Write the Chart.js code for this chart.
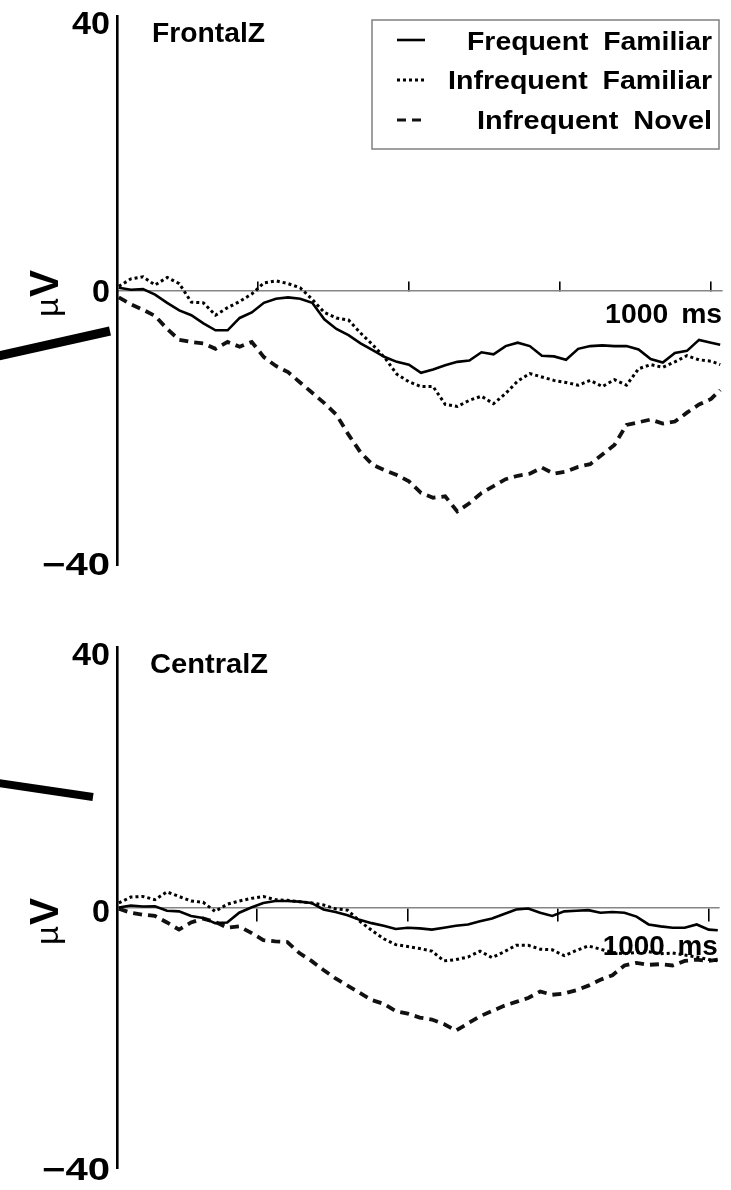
<!DOCTYPE html>
<html lang="en">
<head>
<meta charset="UTF-8" />
<title>FrontalZ / CentralZ ERPs</title>
<script src="https://cdn.jsdelivr.net/npm/chart.js@4.4.1/dist/chart.umd.min.js"></script>
<style>
  html, body { margin: 0; padding: 0; background: #fff; }
  #wrap { position: relative; width: 731px; height: 1190px; }
  .panel { position: absolute; left: 0; width: 731px; height: 595px; }
</style>
</head>
<body>
<div id="wrap">
  <div class="panel" style="top:0"><canvas id="frontal" width="731" height="595"></canvas></div>
  <div class="panel" style="top:595px"><canvas id="central" width="731" height="595"></canvas></div>
</div>
<script>
// time (ms) of each sample
const times = [20, 40, 60, 80, 100, 120, 140, 160, 180, 200, 220, 240, 260, 280, 300, 320, 340, 360, 380, 400,
  420, 440, 460, 480, 500, 520, 540, 560, 580, 600, 620, 640, 660, 680, 700, 720, 740, 760, 780, 800,
  820, 840, 860, 880, 900, 920, 940, 960, 980, 1000, 1015];

// FrontalZ (µV)
const frontalFreqFamiliar = [0.4, 0.1, 0.2, -0.6, -1.8, -2.9, -3.6, -4.8, -5.8, -5.8, -4.0, -3.2, -1.8, -1.2, -1.0, -1.2, -1.8, -4.2, -5.6, -6.5,
  -7.7, -8.7, -9.7, -10.4, -10.8, -12.0, -11.5, -10.9, -10.4, -10.2, -9.0, -9.3, -8.1, -7.6, -8.1, -9.5, -9.6, -10.1, -8.5, -8.1,
  -8.0, -8.1, -8.1, -8.6, -10.0, -10.5, -9.1, -8.8, -7.2, -7.6, -7.9];
const frontalInfreqFamiliar = [0.6, 1.7, 2.0, 0.8, 1.9, 1.0, -1.7, -1.8, -3.6, -2.5, -1.6, -0.5, 1.1, 1.4, 1.0, 0.4, -1.3, -3.2, -4.0, -4.3,
  -6.2, -7.9, -9.8, -12.2, -13.3, -14.0, -14.0, -16.6, -16.9, -16.0, -15.4, -16.5, -15.0, -13.2, -12.1, -12.6, -13.1, -13.4, -13.8, -13.1,
  -14.0, -13.0, -13.8, -11.4, -10.8, -11.2, -10.4, -9.5, -10.1, -10.3, -10.8];
const frontalInfreqNovel = [-1.0, -2.0, -2.8, -3.7, -5.6, -7.2, -7.5, -7.7, -8.5, -7.5, -8.2, -7.5, -9.7, -11.0, -11.9, -13.4, -14.9, -16.4, -18.1, -21.0,
  -23.6, -25.4, -26.2, -26.9, -27.8, -29.5, -30.2, -30.0, -32.2, -31.0, -29.5, -28.5, -27.5, -27.0, -26.7, -25.8, -26.7, -26.4, -25.7, -25.3,
  -23.9, -22.5, -19.6, -19.2, -18.8, -19.4, -19.1, -17.8, -16.6, -15.8, -14.5];

// CentralZ (µV)
const centralFreqFamiliar = [0.0, 0.3, 0.15, 0.2, -0.5, -0.6, -1.3, -1.6, -2.4, -2.3, -0.8, 0.0, 0.7, 1.0, 1.0, 0.9, 0.7, -0.3, -0.7, -1.2,
  -1.9, -2.4, -2.8, -3.3, -3.1, -3.2, -3.4, -3.1, -2.8, -2.6, -2.1, -1.7, -1.0, -0.3, -0.15, -0.8, -1.3, -0.6, -0.5, -0.4,
  -0.8, -0.7, -0.8, -1.4, -2.6, -2.9, -3.1, -3.1, -2.6, -3.4, -3.5];
const centralInfreqFamiliar = [0.7, 1.6, 1.7, 1.2, 2.4, 1.7, 1.0, 0.8, -0.6, 0.5, 1.0, 1.4, 1.7, 1.2, 1.1, 0.9, 0.7, 0.4, -0.2, -0.4,
  -2.1, -3.5, -4.8, -5.7, -6.0, -6.3, -6.7, -8.2, -8.0, -7.6, -6.7, -7.7, -6.8, -5.8, -5.8, -6.4, -6.5, -7.4, -6.6, -5.9,
  -6.4, -6.9, -7.1, -6.9, -6.8, -7.1, -7.0, -7.3, -7.6, -8.0, -8.2];
const centralInfreqNovel = [-0.2, -0.8, -1.1, -1.3, -2.3, -3.4, -2.3, -1.7, -2.2, -3.1, -2.9, -3.9, -5.0, -5.2, -5.3, -7.0, -8.2, -9.6, -10.9, -12.0,
  -13.1, -14.2, -14.8, -15.9, -16.3, -16.9, -17.2, -17.9, -18.9, -17.8, -16.7, -15.9, -15.1, -14.5, -13.9, -12.9, -13.4, -13.2, -12.7, -12.0,
  -11.1, -10.4, -8.9, -8.5, -8.8, -8.7, -8.9, -8.2, -8.0, -8.2, -8.0];

const seriesNames = ['Frequent Familiar', 'Infrequent Familiar', 'Infrequent Novel'];
const xTicks = [250, 500, 750, 1000];
const yTicks = [40, 0, -40];
const yTickLabels = ['40', '0', '\u221240'];
const xTickLabel = '1000 ms';

const FONT = '"Liberation Sans", Arial, Helvetica, sans-serif';
const lineStyles = [
  { borderColor: '#000', borderWidth: 2.6, borderDash: [] },
  { borderColor: '#000', borderWidth: 3, borderDash: [3, 3] },
  { borderColor: '#111', borderWidth: 3.8, borderDash: [9, 6] }
];

// draw text squeezed/stretched to a measured width; rot = rotated to read upwards
function drawText(ctx, str, o) {
  ctx.save();
  ctx.font = (o.weight || 'bold') + ' ' + o.size + 'px ' + FONT;
  if (o.spacing) ctx.wordSpacing = o.spacing + 'px';
  ctx.fillStyle = '#000';
  ctx.textBaseline = 'alphabetic';
  ctx.textAlign = 'left';
  const w = ctx.measureText(str).width;
  const tw = o.width || w;
  const sx = tw / w;
  if (o.rot) {
    ctx.translate(o.x, o.y);
    ctx.rotate(-Math.PI / 2);
  } else {
    const left = o.right !== undefined ? o.right - tw : o.x;
    ctx.translate(left, o.y);
  }
  ctx.scale(sx, 1);
  ctx.fillText(str, 0, 0);
  ctx.restore();
}

function decor(p) {
  return {
    id: 'decor',
    afterDraw(chart) {
      const ctx = chart.ctx;
      const xs = chart.scales.x, ys = chart.scales.y;

      ctx.save();
      ctx.strokeStyle = '#000';
      ctx.lineCap = 'butt';
      p.pointers.forEach(l => {
        ctx.lineWidth = l[4];
        ctx.beginPath();
        ctx.moveTo(l[0], l[1]);
        ctx.lineTo(l[2], l[3]);
        ctx.stroke();
      });
      ctx.restore();

      yTicks.forEach((v, i) => {
        drawText(ctx, yTickLabels[i], { right: 110, y: ys.getPixelForValue(v) + p.yOff[i], size: 31, width: p.yW[i] });
      });
      drawText(ctx, 'V', { rot: true, x: 58, y: p.vY, size: 40, width: 27 });
      drawText(ctx, '\u00B5', { rot: true, x: 58, y: p.muY, size: 32, width: 19, weight: 'normal' });

      drawText(ctx, p.title, { x: p.titleX, y: p.titleY, size: 28, width: p.titleW });

      const zero = ys.getPixelForValue(0);
      drawText(ctx, xTickLabel, { right: xs.getPixelForValue(1000) + p.msDx, y: zero + p.msDy, size: 28, width: p.msW, spacing: 5 });

      if (p.legend) {
        const L = p.legend;
        ctx.save();
        ctx.strokeStyle = '#808080';
        ctx.lineWidth = 1.5;
        ctx.strokeRect(L.box[0], L.box[1], L.box[2] - L.box[0], L.box[3] - L.box[1]);
        ctx.restore();
        chart.data.datasets.forEach((ds, i) => {
          ctx.save();
          ctx.strokeStyle = ds.borderColor;
          ctx.lineWidth = Math.min(ds.borderWidth, 3);
          ctx.setLineDash(ds.borderDash);
          ctx.beginPath();
          ctx.moveTo(L.sampleX[0], L.sampleY[i]);
          ctx.lineTo(L.sampleX[1], L.sampleY[i]);
          ctx.stroke();
          ctx.restore();
          drawText(ctx, ds.label, { right: L.textRight, y: L.textY[i], size: 25, width: L.textW[i], spacing: 6 });
        });
      }
    }
  };
}

function makeChart(id, series, p) {
  const datasets = series.map((vals, i) => Object.assign({
    label: seriesNames[i],
    data: times.map((t, j) => ({ x: t, y: vals[j] })),
    pointRadius: 0,
    tension: 0,
    fill: false
  }, lineStyles[i]));

  return new Chart(document.getElementById(id), {
    type: 'line',
    data: { datasets },
    options: {
      responsive: false,
      animation: false,
      events: [],
      layout: { padding: p.padding },
      plugins: { legend: { display: false }, tooltip: { enabled: false } },
      scales: {
        x: {
          type: 'linear',
          position: { y: 0 },
          min: 17,
          max: p.xMax,
          afterBuildTicks: s => { s.ticks = xTicks.map(v => ({ value: v })); },
          ticks: { display: false },
          grid: { display: true, drawOnChartArea: false, drawTicks: true, tickLength: p.tickLength, color: '#000', lineWidth: 1.6 },
          border: { display: true, color: '#858585', width: 1.5 }
        },
        y: {
          type: 'linear',
          position: 'left',
          min: -40,
          max: 40,
          ticks: { display: false },
          grid: { display: false, drawTicks: false },
          border: { display: true, color: '#000', width: 2.6 }
        }
      }
    },
    plugins: [decor(p)]
  });
}

makeChart('frontal', [frontalFreqFamiliar, frontalInfreqFamiliar, frontalInfreqNovel], {
  padding: { left: 117, right: 9, top: 16, bottom: 30 },
  xMax: 1018,
  tickLength: -10,
  pointers: [[-2, 356, 110, 331, 9]],
  yOff: [18, 11, 10],
  yW: [38, 18, 68],
  vY: 297, muY: 317,
  title: 'FrontalZ', titleX: 152, titleY: 42, titleW: 113,
  msDx: 11, msDy: 32, msW: 117,
  legend: {
    box: [372, 20, 719, 149],
    sampleX: [397, 425],
    sampleY: [40, 80, 120],
    textRight: 712,
    textY: [50, 89, 129],
    textW: [245, 264, 235]
  }
});

makeChart('central', [centralFreqFamiliar, centralInfreqFamiliar, centralInfreqNovel], {
  padding: { left: 117, right: 12, top: 52, bottom: 22 },
  xMax: 1017,
  tickLength: 13,
  pointers: [[-2, 188, 93, 202, 8]],
  yOff: [18, 14, 12],
  yW: [38, 18, 68],
  vY: 330, muY: 350,
  title: 'CentralZ', titleX: 150, titleY: 78, titleW: 118,
  msDx: 9, msDy: 47, msW: 115
});
</script>
</body>
</html>
